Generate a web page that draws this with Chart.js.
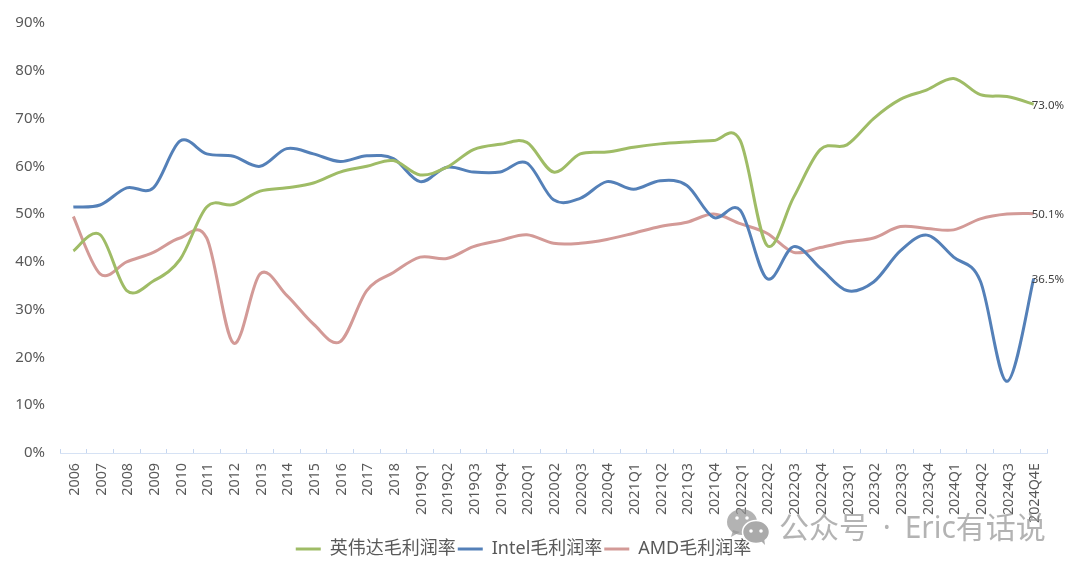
<!DOCTYPE html>
<html lang="zh">
<head>
<meta charset="utf-8">
<title>毛利润率</title>
<script src="https://cdn.jsdelivr.net/npm/chart.js@4"></script>
<style>
html,body{margin:0;padding:0;background:#fff}
#wrap{width:1080px;height:571px;position:relative}
</style>
</head>
<body>
<div id="wrap"><canvas id="c" width="1080" height="571"></canvas></div>
<script>
const categories = ['2006','2007','2008','2009','2010','2011','2012','2013','2014','2015','2016','2017','2018',
  '2019Q1','2019Q2','2019Q3','2019Q4','2020Q1','2020Q2','2020Q3','2020Q4','2021Q1','2021Q2','2021Q3','2021Q4',
  '2022Q1','2022Q2','2022Q3','2022Q4','2023Q1','2023Q2','2023Q3','2023Q4','2024Q1','2024Q2','2024Q3','2024Q4E'];
const nvidia = [42.3,45.7,34,36,40.5,51.5,52,54.8,55.5,56.5,58.8,60,61.2,
  58.2,59.8,63.5,64.6,65,58.8,62.6,63,64,64.7,65.1,65.4,
  65.4,43.5,53.5,63.5,64.5,70,74,76,78.4,75,74.6,73.0];
const intel = [51.5,51.9,55.5,55.5,65.3,62.6,62.1,60,63.7,62.6,61,62.2,61.6,
  56.8,59.8,58.8,58.8,60.7,53,53.3,56.8,55.2,57,56,49.3,
  50.8,36.5,43.2,38.7,34,35.8,42.3,45.6,41,36,15,36.5];
const amd = [49.5,37.5,40,42,45,45,23,37.5,33,27,23.3,34,37.8,
  41,40.7,43.2,44.5,45.7,43.9,43.9,44.7,46,47.4,48.3,50,
  48,46,42,43,44.2,45,47.4,47,46.7,49,50,50.1];
const seriesNames = ['英伟达毛利润率','Intel毛利润率','AMD毛利润率'];
const seriesColors = ['#9fbc66','#5480b8','#d39a97'];
const yTicks = [0,10,20,30,40,50,60,70,80,90];
const watermark = '公众号 · Eric有话说';

const family = '"Noto Sans","Noto Sans CJK SC",sans-serif';

// Spreadsheet-style smoothing: each control point follows the chord of its neighbours.
const chordSmoothing = {
  id: 'chordSmoothing',
  afterDatasetsUpdate(chart) {
    chart.data.datasets.forEach((ds, i) => {
      const meta = chart.getDatasetMeta(i);
      const pts = meta.data;
      pts.forEach((p, k) => {
        const a = pts[Math.max(k - 1, 0)];
        const b = pts[Math.min(k + 1, pts.length - 1)];
        p.cp1x = p.x - (b.x - a.x) / 6;
        p.cp1y = p.y - (b.y - a.y) / 6;
        p.cp2x = p.x + (b.x - a.x) / 6;
        p.cp2y = p.y + (b.y - a.y) / 6;
      });
      meta.dataset._pointsUpdated = true;
    });
  }
};

// Writes the closing value beside the last point of every line.
const endLabels = {
  id: 'endLabels',
  afterDatasetsDraw(chart) {
    const ctx = chart.ctx;
    ctx.save();
    ctx.font = '11.5px ' + family;
    ctx.fillStyle = '#404040';
    ctx.textAlign = 'left';
    ctx.textBaseline = 'middle';
    chart.data.datasets.forEach((ds, i) => {
      const pt = chart.getDatasetMeta(i).data[ds.data.length - 1];
      ctx.fillText(ds.data[ds.data.length - 1].toFixed(1) + '%', pt.x - 2, pt.y + 1);
    });
    ctx.restore();
  }
};

// Channel mark and name laid over the lower right corner.
const channelMark = {
  id: 'channelMark',
  afterDraw(chart) {
    const ctx = chart.ctx;
    ctx.save();
    ctx.fillStyle = 'rgba(150,150,150,0.72)';
    ctx.beginPath();
    ctx.ellipse(742, 522, 15, 13, 0, 0, Math.PI * 2);
    ctx.fill();
    ctx.beginPath();
    ctx.moveTo(733, 530); ctx.lineTo(731, 537); ctx.lineTo(740, 532);
    ctx.fill();
    ctx.strokeStyle = '#fff';
    ctx.lineWidth = 1.5;
    ctx.fillStyle = 'rgba(170,170,170,1)';
    ctx.beginPath();
    ctx.ellipse(756, 532, 13.5, 11.5, 0, 0, Math.PI * 2);
    ctx.fill();
    ctx.stroke();
    ctx.beginPath();
    ctx.moveTo(761, 541); ctx.lineTo(765, 545); ctx.lineTo(764, 538);
    ctx.fill();
    ctx.fillStyle = '#fff';
    [[737,518],[747,518],[751,531],[761,531]].forEach(([x, y]) => {
      ctx.beginPath();
      ctx.arc(x, y, 1.8, 0, Math.PI * 2);
      ctx.fill();
    });
    ctx.font = '30px ' + family;
    ctx.wordSpacing = '6px';
    ctx.fillStyle = 'rgba(150,150,150,0.72)';
    ctx.textBaseline = 'alphabetic';
    ctx.textAlign = 'left';
    ctx.fillText(watermark, 779, 538);
    ctx.restore();
  }
};

new Chart(document.getElementById('c'), {
  type: 'line',
  data: {
    labels: categories,
    datasets: [nvidia, intel, amd].map((values, i) => ({
      label: seriesNames[i],
      data: values,
      borderColor: seriesColors[i],
      backgroundColor: seriesColors[i],
      borderWidth: 3,
      pointRadius: 0,
      tension: 0.4,
      clip: false
    }))
  },
  plugins: [chordSmoothing, endLabels, channelMark],
  options: {
    responsive: false,
    animation: false,
    layout: { padding: { top: 23, right: 33, bottom: 3, left: 0 } },
    plugins: {
      tooltip: { enabled: false },
      legend: {
        position: 'bottom',
        labels: {
          font: { family, size: 18 },
          color: '#595959',
          boxWidth: 25,
          boxHeight: 3,
          padding: 2,
          generateLabels: c => Chart.defaults.plugins.legend.labels.generateLabels(c)
            .map(item => ({ ...item, lineWidth: 0 }))
        }
      }
    },
    scales: {
      x: {
        offset: true,
        afterFit(s) { s.height = 85; },
        border: { color: '#d6e2f4', dash: [11, 2.33], width: 1 },
        grid: { display: true, drawOnChartArea: false, drawTicks: true, tickLength: -4, color: '#c6d6ef', offset: true },
        ticks: {
          autoSkip: false,
          maxRotation: 90,
          minRotation: 90,
          color: '#595959',
          font: { family, size: 14.3 },
          padding: 14,
          labelOffset: 1.5
        }
      },
      y: {
        min: 0,
        max: 90,
        afterFit(s) { s.width = 60; },
        afterBuildTicks(s) { s.ticks = yTicks.map(v => ({ value: v })); },
        border: { display: false },
        grid: { display: false },
        ticks: {
          color: '#595959',
          font: { family, size: 15 },
          padding: 7,
          callback: v => v + '%'
        }
      }
    }
  }
});
</script>
</body>
</html>
